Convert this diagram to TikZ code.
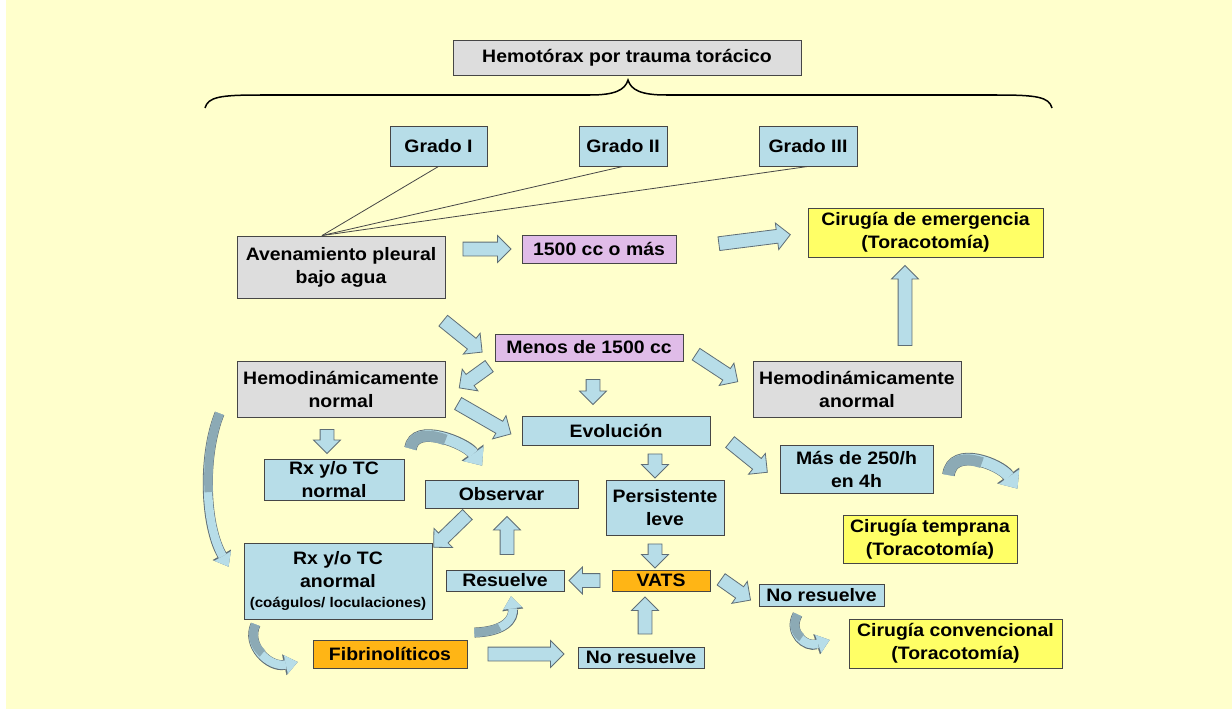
\documentclass[tikz,border=0pt]{standalone}
\usepackage{fontspec}
\newfontfamily\diagfont{Liberation Sans}[FakeStretch=1.08]
\definecolor{fondo}{RGB}{255,255,204}
\definecolor{celeste}{RGB}{183,221,232}
\definecolor{gris}{RGB}{221,221,221}
\definecolor{rosa}{RGB}{224,188,232}
\definecolor{amarillo}{RGB}{255,255,102}
\definecolor{naranja}{RGB}{255,181,21}
\definecolor{oscuro}{RGB}{140,170,181}
\definecolor{borde}{RGB}{70,70,70}
\definecolor{bordeflecha}{RGB}{95,110,118}
\usetikzlibrary{shapes.arrows, arrows.meta}
\newcommand{\chica}{\fontsize{14}{16}\selectfont}
% flecha curva: talla, inicio, control 1, control 2, fin, tramo oscuro
\newcommand{\flechacurva}[6]{%
  \draw[curvaborde#1] #2 .. controls #3 and #4 .. #5;
  \draw[curvaluz#1] #2 .. controls #3 and #4 .. #5;
  \draw[curvasombra#1, dash pattern=on #6 off 999pt] #2 .. controls #3 and #4 .. #5;
}

\begin{document}
\begin{tikzpicture}[x=1pt, y=-1pt,
      caja/.style   = {draw=borde, line width=0.9pt, inner sep=1pt, align=center,
                       font=\diagfont\bfseries\fontsize{18}{23}\selectfont},
      cgris/.style  = {caja, fill=gris},
      ccel/.style   = {caja, fill=celeste},
      crosa/.style  = {caja, fill=rosa},
      camar/.style  = {caja, fill=amarillo},
      cnar/.style   = {caja, fill=naranja},
      flecha/.style = {single arrow, draw=bordeflecha, fill=celeste, line width=0.8pt,
                       inner xsep=0pt, inner ysep=6.5pt, single arrow head extend=6.5,
                       sloped, allow upside down},
      linea/.style  = {draw=borde, line width=0.8pt},
      llave/.style  = {draw=black, line width=1.5pt},
      curvabordeg/.style = {draw=bordeflecha, line width=12.6pt,
                       -{Triangle[width=27pt, length=16pt, line width=0.1pt]}},
      curvaluzg/.style   = {draw=celeste, line width=11pt,
                       -{Triangle[width=25pt, length=14.5pt, line width=0.1pt]}},
      curvasombrag/.style = {draw=oscuro, line width=11pt},
      curvabordec/.style = {draw=bordeflecha, line width=10pt,
                       -{Triangle[width=21pt, length=13.5pt, line width=0.1pt]}},
      curvaluzc/.style   = {draw=celeste, line width=8.5pt,
                       -{Triangle[width=19pt, length=12pt, line width=0.1pt]}},
      curvasombrac/.style = {draw=oscuro, line width=8.5pt},
    ]

    % --- Fondo ---
    \fill[white] (0,0) rectangle (1232,709);
    \fill[fondo] (6,0) rectangle (1232,709);
    \useasboundingbox (0,0) rectangle (1232,709);

    % --- Titulo y llave ---
    \node[cgris, minimum width=348, minimum height=35] (titulo) at (627,57.5) {Hemotórax por trauma torácico};
    \draw[llave] (205,108) .. controls (208,97) and (220,95) .. (260,95) -- (590,95)
                 .. controls (615,95) and (625,90) .. (628,80)
                 .. controls (631,90) and (641,95) .. (666,95) -- (997,95)
                 .. controls (1037,95) and (1049,97) .. (1052,108);

    % --- Grados ---
    \node[ccel, minimum width=97, minimum height=40] (g1) at (438.5,146) {Grado I};
    \node[ccel, minimum width=88, minimum height=40] (g2) at (623,146) {Grado II};
    \node[ccel, minimum width=98, minimum height=40] (g3) at (808,146) {Grado III};

    % --- Cajas ---
    \node[cgris, minimum width=208, minimum height=62] (aven) at (341,267) {Avenamiento pleural\\bajo agua};
    \node[crosa, minimum width=154, minimum height=28] (mas1500) at (599,249) {1500 cc o más};
    \node[camar, minimum width=235, minimum height=49] (emerg) at (925.5,232.5) {Cirugía de emergencia\\(Toracotomía)};
    \node[crosa, minimum width=188, minimum height=27] (menos) at (589,347.5) {Menos de 1500 cc};
    \node[cgris, minimum width=208, minimum height=56] (hnormal) at (341,389) {Hemodinámicamente\\normal};
    \node[cgris, minimum width=208, minimum height=56] (hanormal) at (857,389) {Hemodinámicamente\\anormal};
    \node[ccel, minimum width=188, minimum height=29] (evol) at (616,430.5) {Evolución};
    \node[ccel, minimum width=153, minimum height=48] (mas250) at (856.5,469) {Más de 250/h\\en 4h};
    \node[camar, minimum width=174, minimum height=48] (temprana) at (930,539) {Cirugía temprana\\(Toracotomía)};
    \node[ccel, minimum width=140, minimum height=41] (rxnormal) at (334,479.5) {Rx y/o TC\\normal};
    \node[ccel, minimum width=153, minimum height=28] (observar) at (501.5,494) {Observar};
    \node[ccel, minimum width=118, minimum height=55] (persist) at (665,507.5) {Persistente\\leve};
    \node[ccel, minimum width=188, minimum height=76] (rxanormal) at (338,581)
         {Rx y/o TC\\anormal\\[-3pt]{\chica (coágulos/ loculaciones)}};
    \node[ccel, minimum width=118, minimum height=21] (resuelve) at (505,580.5) {Resuelve};
    \node[cnar, minimum width=98, minimum height=21] (vats) at (661,580.5) {VATS};
    \node[ccel, minimum width=125, minimum height=22] (noresA) at (821.5,595) {No resuelve};
    \node[camar, minimum width=213, minimum height=49] (conven) at (955.5,643.5) {Cirugía convencional\\(Toracotomía)};
    \node[cnar, minimum width=154, minimum height=28] (fibrino) at (390,654) {Fibrinolíticos};
    \node[ccel, minimum width=126, minimum height=21] (noresB) at (641,657.5) {No resuelve};

    % --- Lineas de los grados ---
    \coordinate (junta) at ([xshift=-19pt]aven.north);
    \foreach \g in {g1, g2, g3}{
      \draw[linea] (\g.south) -- (junta);
    }

    % --- Flechas rectas ---
    \path (aven.east |- mas1500.west) -- node[flecha, minimum height=48] (f1) {} (mas1500.west);
    \path (mas1500.east) -- node[flecha, minimum height=72, pos=.57] (f2) {} (emerg.west);
    \path ([xshift=48pt]hanormal.north) -- node[flecha, minimum height=80] (f3) {} ([xshift=-20.5pt]emerg.south);
    \path ([shift={(-5,20)}]aven.south east) -- node[flecha, minimum height=50] (f4) {} ([shift={(-15,2.5)}]menos.west);
    \path ([shift={(-3,3)}]menos.south west) -- node[flecha, minimum height=37] (f5) {} ([shift={(17,25)}]hnormal.north east);
    \path ([xshift=4pt]menos.south) -- node[flecha, minimum height=25] (f6) {} ([xshift=-23pt]evol.north);
    \path ([shift={(10,5)}]menos.east) -- node[flecha, minimum height=50] (f7) {} ([shift={(-18,19)}]hanormal.north west);
    \path ([shift={(10,13)}]hnormal.east) -- node[flecha, minimum height=61] (f8) {} ([shift={(-14,1.5)}]evol.west);
    \path ([shift={(17,9.5)}]evol.east) -- node[flecha, minimum height=48] (f9) {} ([shift={(-15,1)}]mas250.west);
    \path ([xshift=39pt]evol.south) -- node[flecha, minimum height=24] (f10) {} ([xshift=-10pt]persist.north);
    \path ([xshift=-10pt]persist.south) -- node[flecha, minimum height=24] (f11) {} ([xshift=-6pt]vats.north);
    \path (vats.west) -- node[flecha, minimum height=31] (f12) {} (resuelve.east);
    \path ([shift={(8,-3)}]vats.east) -- node[flecha, minimum height=36] (f13) {} ([shift={(-11,3)}]noresA.west);
    \path ([xshift=4pt]noresB.north) -- node[flecha, minimum height=37] (f14) {} ([xshift=-16pt]vats.south);
    \path (fibrino.east) -- node[flecha, minimum height=76] (f15) {} (noresB.west |- fibrino.east);
    \path ([xshift=2pt]resuelve.north) -- node[flecha, minimum height=38] (f16) {} ([xshift=5.5pt]observar.south);
    \path ([shift={(45,4)}]observar.south west) -- node[flecha, minimum height=47] (f17) {} ([shift={(4,2)}]rxanormal.north east);
    \path ([xshift=-14pt]hnormal.south) -- node[flecha, minimum height=24] (f18) {} ([xshift=-7pt]rxnormal.north);

    % --- Flechas curvas ---
    \coordinate (c1a) at ([shift={(-17,-4)}]hnormal.south west);
    \coordinate (c1b) at ([shift={(-15,24)}]rxanormal.north west);
    \flechacurva{c}{(c1a)}{+(-17,42)}{+(-24,-42)}{(c1b)}{80pt}
    \coordinate (c2a) at ([shift={(15,6)}]mas250.east);
    \coordinate (c2b) at ([shift={(0,-26)}]temprana.north east);
    \flechacurva{g}{(c2a)}{+(4,-30)}{+(-17,-24)}{(c2b)}{42pt}
    \coordinate (c3a) at ([shift={(6,-10)}]rxnormal.north east);
    \coordinate (c3b) at ([shift={(-19.5,-14)}]observar.north);
    \flechacurva{g}{(c3a)}{+(4,-27)}{+(-16,-22)}{(c3b)}{42pt}
    \coordinate (c4a) at ([shift={(12,5)}]rxanormal.south west);
    \coordinate (c4b) at ([shift={(-15,8)}]fibrino.west);
    \flechacurva{c}{(c4a)}{+(-10,21)}{+(-28,6)}{(c4b)}{32pt}
    \coordinate (c5a) at ([shift={(7,-7)}]fibrino.north east);
    \coordinate (c5b) at ([shift={(6,5)}]resuelve.south);
    \flechacurva{c}{(c5a)}{+(31,-1)}{+(3,22)}{(c5b)}{26pt}
    \coordinate (c6a) at ([shift={(39,8)}]noresA.south west);
    \coordinate (c6b) at ([shift={(-19,-3.5)}]conven.west);
    \flechacurva{c}{(c6a)}{+(-10,18)}{+(-24,8)}{(c6b)}{26pt}

  \end{tikzpicture}
\end{document}
